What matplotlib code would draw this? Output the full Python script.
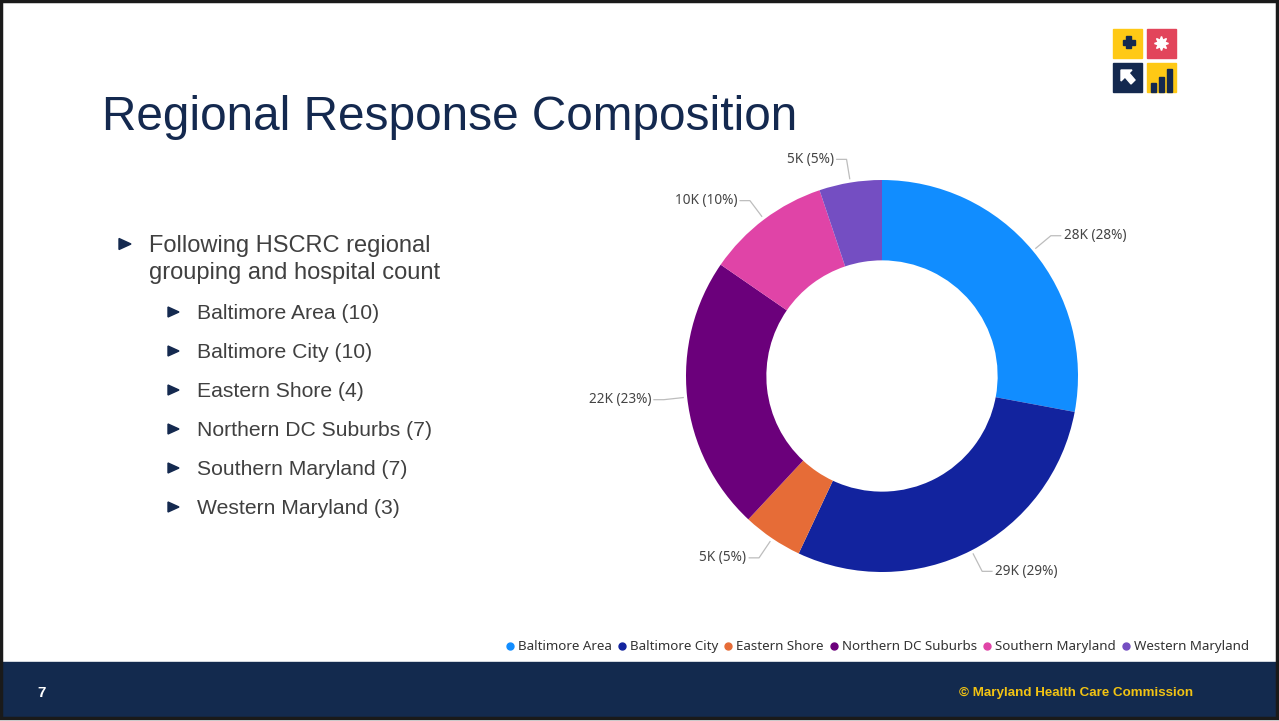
import numpy as np
import matplotlib
matplotlib.use("Agg")
import matplotlib.pyplot as plt
from matplotlib.patches import Rectangle, Polygon

# regional response counts (thousands)
regions = ["Baltimore Area", "Baltimore City", "Eastern Shore",
           "Northern DC Suburbs", "Southern Maryland", "Western Maryland"]
responses_k = [27.6, 28.7, 4.9, 22.4, 10.1, 5.1]
hospital_counts = [10, 10, 4, 7, 7, 3]
region_colors = ["#118DFF", "#12239E", "#E66C37", "#6B007B", "#E044A7", "#744EC2"]

NAVY = "#14294F"
W, H = 1279, 721

fig = plt.figure(figsize=(W / 100, H / 100), dpi=100)
fig.patch.set_facecolor("white")

# slide canvas in pixel coordinates (y down)
slide = fig.add_axes([0, 0, 1, 1])
slide.set_xlim(0, W)
slide.set_ylim(H, 0)
slide.axis("off")

# footer band and frame
slide.add_patch(Rectangle((0, 662), W, 56, color="#132A4E", zorder=1))
slide.add_patch(Rectangle((1, 1), W - 3, H - 4, fill=False, ec="#1a1a1a", lw=2.5, zorder=5))
slide.text(42, 697, "7", color="white", fontsize=11, fontweight="bold",
           family="Liberation Sans", ha="center", va="baseline")
slide.text(1076, 696, "\u00a9 Maryland Health Care Commission", color="#F2C313",
           fontsize=9.6, fontweight="bold", family="Liberation Sans",
           ha="center", va="baseline")

# logo tiles
s = 29
slide.add_patch(Rectangle((1113, 29), s, s, color="#FFC915", zorder=2))
slide.add_patch(Rectangle((1147, 29), s, s, color="#E2455B", zorder=2))
slide.add_patch(Rectangle((1113, 63), s, s, color=NAVY, zorder=2))
slide.add_patch(Rectangle((1147, 63), s, s, color="#FFC915", zorder=2))
# plus
slide.add_patch(Rectangle((1122.5, 39.5), 12, 5, color=NAVY, zorder=3))
slide.add_patch(Rectangle((1126, 36), 5, 12, color=NAVY, zorder=3))
# starburst
ang = np.linspace(0, 2 * np.pi, 17)[:-1]
rad = np.where(np.arange(16) % 2 == 0, 7, 3.6)
slide.add_patch(Polygon(np.c_[1161.5 + rad * np.cos(ang), 43.5 + rad * np.sin(ang)],
                        color="white", zorder=3))
# arrow
arrow = [(1121, 70), (1132, 70), (1129, 73), (1135, 80), (1131, 84),
         (1125, 77), (1121, 81)]
slide.add_patch(Polygon(arrow, color="white", zorder=3))
# bars
for bx, bh in [(1151, 9), (1159, 15), (1167, 23)]:
    slide.add_patch(Rectangle((bx, 92 - bh), 5, bh, color=NAVY, zorder=3))

# title
slide.text(102, 130, "Regional Response Composition", color=NAVY, fontsize=34.4,
           family="Liberation Sans", va="baseline")


def bullet(x, y, w, h):
    # right-pointing triangle marker, (x, y) is the left edge at mid height
    slide.add_patch(Polygon([(x, y - h / 2), (x + w, y), (x, y + h / 2)],
                            color=NAVY, zorder=3))


# bullet list
txt_color = "#404040"
bullet(119, 244, 12, 11)
slide.text(149, 252, "Following HSCRC regional", color=txt_color, fontsize=17,
           family="Liberation Sans", va="baseline")
slide.text(149, 279, "grouping and hospital count", color=txt_color, fontsize=17,
           family="Liberation Sans", va="baseline")
for i, (name, n) in enumerate(zip(regions, hospital_counts)):
    y = 319 + 39 * i
    bullet(168, y - 7, 11, 10)
    slide.text(197, y, f"{name} ({n})", color=txt_color, fontsize=15.2,
               family="Liberation Sans", va="baseline")

# donut chart
cx, cy, R = 882, 376, 196
span = 1.35
side = 2 * R * span
ax = fig.add_axes([(cx - side / 2) / W, (H - cy - side / 2) / H, side / W, side / H])

wedges, _ = ax.pie(responses_k, colors=region_colors, startangle=90, counterclock=False,
                   radius=1.0, wedgeprops=dict(width=0.41, linewidth=0))
ax.set_xlim(-span, span)
ax.set_ylim(-span, span)
ax.axis("off")

total = sum(responses_k)
lab_font = ["Noto Sans", "DejaVu Sans"]
for w, v in zip(wedges, responses_k):
    mid = np.deg2rad((w.theta1 + w.theta2) / 2)
    c, sn = np.cos(mid), np.sin(mid)
    side_sign = 1 if c >= 0 else -1
    x0, y0 = 1.02 * c, 1.02 * sn
    x1, y1 = 1.12 * c, 1.12 * sn
    x2 = x1 + side_sign * 0.05
    ax.plot([x0, x1, x2], [y0, y1, y1], color="#BDBDBD", lw=0.9)
    label = f"{round(v)}K ({round(100 * v / total)}%)"
    ax.text(x2 + side_sign * 0.015, y1, label, ha="left" if side_sign > 0 else "right",
            va="center", fontsize=9.8, color="#444444", family=lab_font)

# legend along the bottom, laid out entry by entry on a shared baseline
renderer = fig.canvas.get_renderer()
lx, ly = 510, 650
for name, col in zip(regions, region_colors):
    slide.plot(lx, ly - 4.5, marker="o", ms=5, color=col, ls="", zorder=4)
    t = slide.text(lx + 8, ly, name, color="#333333", fontsize=9.6, family=lab_font,
                   va="baseline")
    bb = t.get_window_extent(renderer)
    lx = lx + 8 + bb.width + 10

fig.savefig("out.png", dpi=100, facecolor="white")
